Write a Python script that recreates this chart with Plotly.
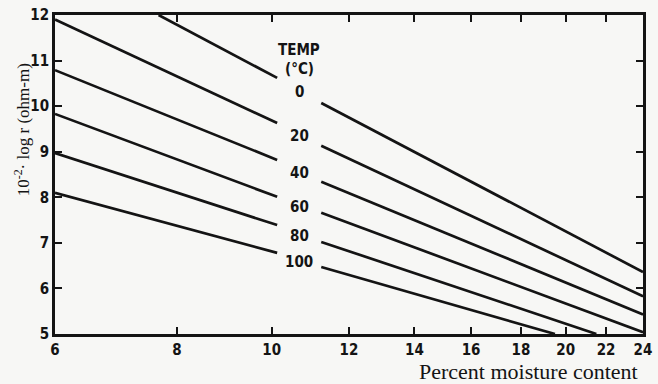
import math
import plotly.graph_objects as go

# Wood resistivity vs. moisture content at several temperatures
temps_c = [0, 20, 40, 60, 80, 100]

# Each line is drawn as two straight pieces (on a log moisture axis) with a gap
# in the middle where the temperature label sits.
start_moisture = [7.66, 6.0, 6.0, 6.0, 6.0, 6.0]
start_logr = [12.0, 11.90, 10.79, 9.83, 8.97, 8.10]

gap_left_moisture = [10.13, 10.13, 10.13, 10.13, 10.13, 10.13]
gap_left_logr = [10.62, 9.63, 8.82, 8.01, 7.39, 6.78]

gap_right_moisture = [11.24, 11.24, 11.24, 11.24, 11.24, 11.24]
gap_right_logr = [10.07, 9.13, 8.34, 7.66, 7.02, 6.47]

end_moisture = [24.0, 24.0, 24.0, 24.0, 21.5, 19.5]
end_logr = [6.36, 5.83, 5.43, 5.04, 5.0, 5.0]

moisture_ticks = [6, 8, 10, 12, 14, 16, 18, 20, 22, 24]
logr_ticks = [5, 6, 7, 8, 9, 10, 11, 12]

INK = "#141414"
PAPER = "#f7f7f5"
TICK_FONT = dict(family="DejaVu Sans Condensed, Liberation Sans Narrow, Arial Narrow, sans-serif",
                 size=15, color=INK, weight="bold")
SERIF_X = dict(family="Liberation Serif, Times New Roman, serif", size=22, color=INK)
SERIF_Y = dict(family="Liberation Serif, Times New Roman, serif", size=17, color=INK)

fig = go.Figure()

for i, t in enumerate(temps_c):
    fig.add_trace(go.Scatter(
        x=[start_moisture[i], gap_left_moisture[i], None, gap_right_moisture[i], end_moisture[i]],
        y=[start_logr[i], gap_left_logr[i], None, gap_right_logr[i], end_logr[i]],
        mode="lines",
        line=dict(color=INK, width=2.7),
        connectgaps=False,
        showlegend=False,
        hoverinfo="skip",
    ))
    # temperature label centred in the gap
    lx = math.sqrt(gap_left_moisture[i] * gap_right_moisture[i])
    ly = (gap_left_logr[i] + gap_right_logr[i]) / 2
    fig.add_annotation(x=math.log10(lx), y=ly, text=str(t), showarrow=False,
                       font=TICK_FONT, xanchor="center", yanchor="middle", yshift=-2)

# heading above the temperature labels
lx0 = math.log10(math.sqrt(gap_left_moisture[0] * gap_right_moisture[0]))
ly0 = (gap_left_logr[0] + gap_right_logr[0]) / 2
fig.add_annotation(x=lx0, y=ly0, text="TEMP", showarrow=False, font=TICK_FONT,
                   xanchor="center", yanchor="middle", yshift=40)
fig.add_annotation(x=lx0, y=ly0, text="(°C)", showarrow=False, font=TICK_FONT,
                   xanchor="center", yanchor="middle", yshift=21)

# axis titles
fig.add_annotation(xref="paper", yref="paper", x=-0.057, y=0.64,
                   text="10<sup>-2</sup>· log r (ohm-m)", textangle=-90,
                   showarrow=False, font=SERIF_Y, xanchor="center", yanchor="middle")
fig.add_annotation(xref="paper", yref="paper", x=0.995, y=-0.118,
                   text="Percent moisture content", showarrow=False, font=SERIF_X,
                   xanchor="right", yanchor="middle")

axis_common = dict(showline=True, linecolor=INK, linewidth=2.7, mirror="ticks",
                   ticks="inside", ticklen=7, tickwidth=2, tickcolor=INK,
                   showgrid=False, zeroline=False, tickfont=TICK_FONT,
                   ticklabeloverflow="allow")

fig.update_xaxes(type="log", range=[math.log10(6), math.log10(24)],
                 tickvals=moisture_ticks, ticktext=[str(v) for v in moisture_ticks],
                 **axis_common)
fig.update_yaxes(range=[5, 12], tickvals=logr_ticks,
                 ticktext=[str(v) for v in logr_ticks], **axis_common)

fig.update_layout(
    width=658, height=384,
    margin=dict(l=55, r=6, t=15, b=50),
    paper_bgcolor=PAPER, plot_bgcolor=PAPER,
)

fig.write_html("out.html")
